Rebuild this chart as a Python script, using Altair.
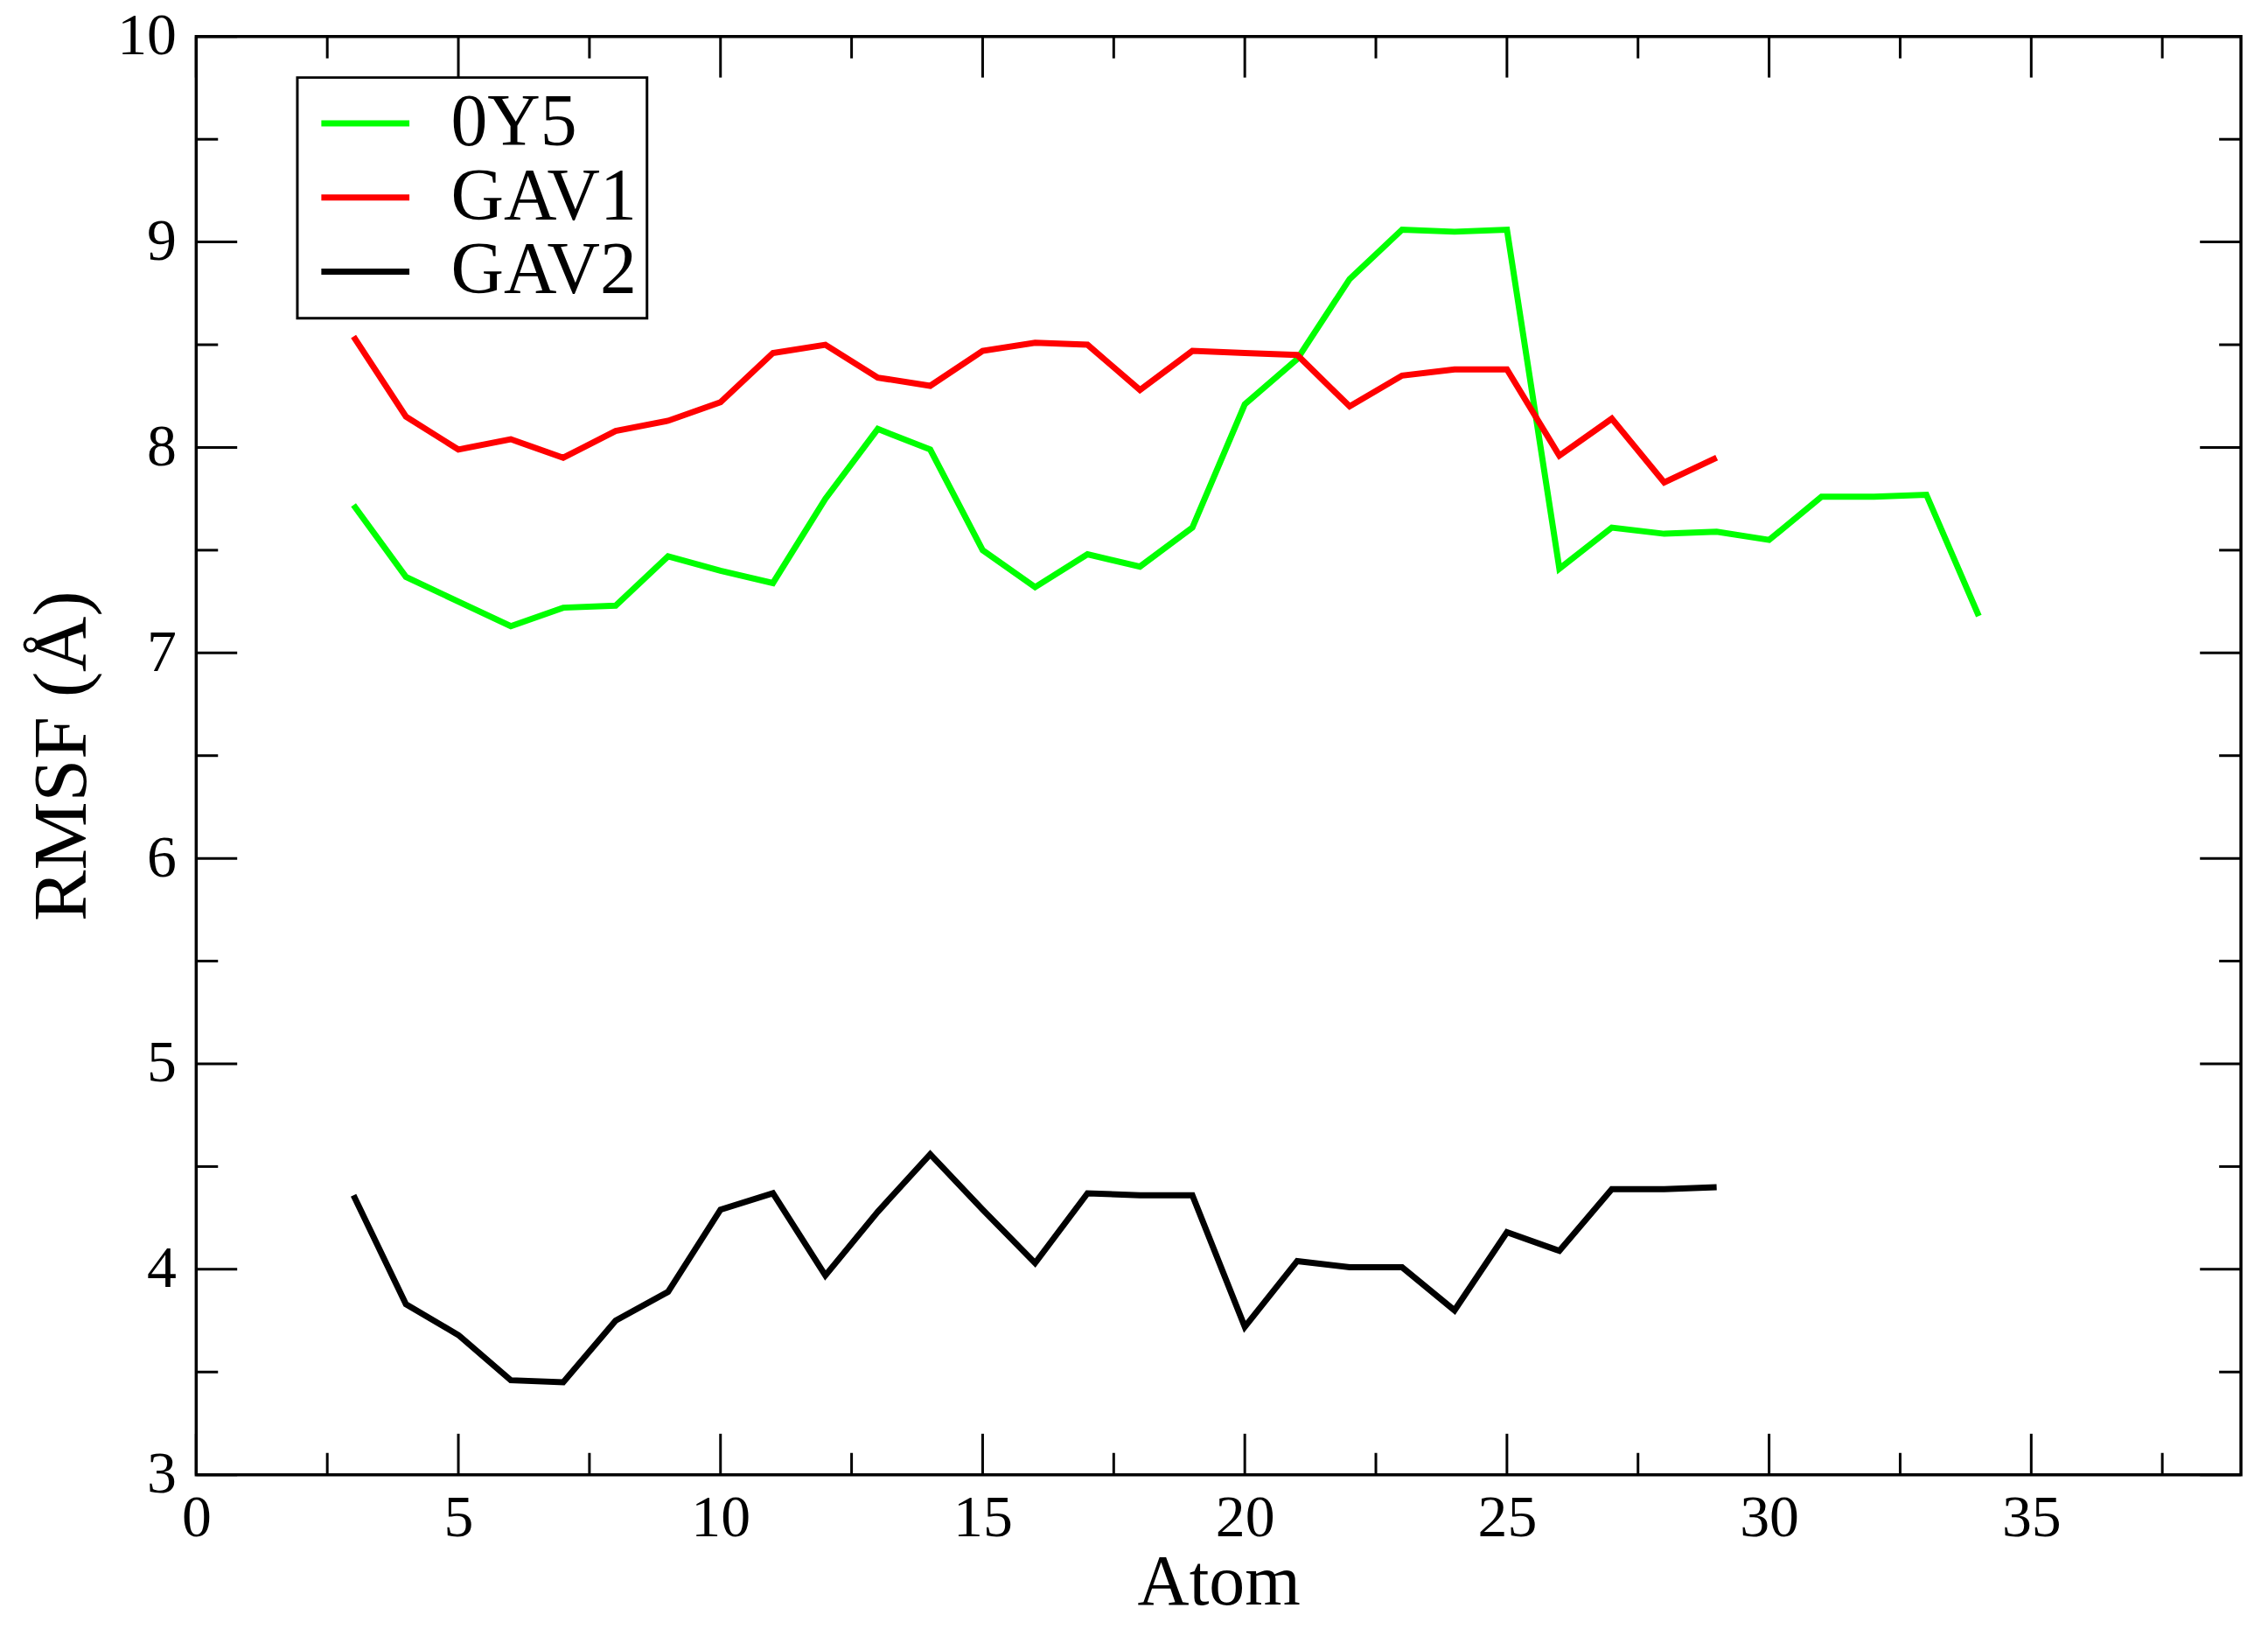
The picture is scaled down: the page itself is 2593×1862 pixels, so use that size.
import altair as alt
import pandas as pd

# ---- data ----
atoms_0y5 = list(range(3, 35))
rmsf_0y5 = [7.72, 7.37, 7.25, 7.13, 7.22, 7.23, 7.47, 7.40, 7.34, 7.75, 8.09, 7.99,
            7.50, 7.32, 7.48, 7.42, 7.61, 8.21, 8.43, 8.82, 9.06, 9.05, 9.06, 7.41,
            7.61, 7.58, 7.59, 7.55, 7.76, 7.76, 7.77, 7.18]

atoms_gav1 = list(range(3, 30))
rmsf_gav1 = [8.54, 8.15, 7.99, 8.04, 7.95, 8.08, 8.13, 8.22, 8.46, 8.50, 8.34, 8.30,
             8.47, 8.51, 8.50, 8.28, 8.47, 8.46, 8.45, 8.20, 8.35, 8.38, 8.38, 7.96,
             8.14, 7.83, 7.95]

atoms_gav2 = list(range(3, 30))
rmsf_gav2 = [4.36, 3.83, 3.68, 3.46, 3.45, 3.75, 3.89, 4.29, 4.37, 3.97, 4.28, 4.56,
             4.29, 4.03, 4.37, 4.36, 4.36, 3.72, 4.04, 4.01, 4.01, 3.80, 4.18, 4.09,
             4.39, 4.39, 4.40]

series_names = ["0Y5", "GAV1", "GAV2"]
series_colors = ["#00ff00", "#ff0000", "#000000"]

x_major = [0, 5, 10, 15, 20, 25, 30, 35]
x_minor = [2.5, 7.5, 12.5, 17.5, 22.5, 27.5, 32.5, 37.5]
y_major = [3, 4, 5, 6, 7, 8, 9, 10]
y_minor = [3.5, 4.5, 5.5, 6.5, 7.5, 8.5, 9.5]

# ---- build tables ----
rows = []
for name, atoms, vals in [("0Y5", atoms_0y5, rmsf_0y5),
                          ("GAV1", atoms_gav1, rmsf_gav1),
                          ("GAV2", atoms_gav2, rmsf_gav2)]:
    for a, v in zip(atoms, vals):
        rows.append({"atom": a, "rmsf": v, "series": name})
df = pd.DataFrame(rows)

W, H = 2345, 1649
FONT = "Liberation Serif"
MAJ, MIN = 47, 25

xs = alt.Scale(domain=[0, 39], nice=False, zero=False)
ys = alt.Scale(domain=[3, 10], nice=False, zero=False)

x_axis = alt.Axis(values=x_major, format="d", title="Atom", labelFontSize=68, labelFont=FONT,
                  titleFont=FONT, titleFontSize=82, titleFontWeight="normal",
                  ticks=False, tickSize=0, domain=False, grid=False,
                  labelPadding=16, labelFlush=False, labelColor="black",
                  titleColor="black", titleBaseline="alphabetic",
                  titleX=W / 2, titleY=148, titleAlign="center")
y_axis = alt.Axis(values=y_major, format="d", title="RMSF (Å)", labelFontSize=68, labelFont=FONT,
                  titleFont=FONT, titleFontSize=88, titleFontWeight="normal",
                  ticks=False, tickSize=0, domain=False, grid=False,
                  labelPadding=23, labelFlush=False, labelColor="black",
                  titleColor="black", titleBaseline="alphabetic",
                  titleX=-127, titleY=H / 2, titleAlign="center", titleAngle=270)

lines = alt.Chart(df).mark_line(strokeWidth=7).encode(
    x=alt.X("atom:Q", scale=xs, axis=x_axis),
    y=alt.Y("rmsf:Q", scale=ys, axis=y_axis),
    color=alt.Color("series:N", title=None,
                    scale=alt.Scale(domain=series_names, range=series_colors),
                    legend=alt.Legend(orient="none", legendX=116, legendY=47,
                                      symbolType="stroke", symbolSize=10201,
                                      symbolStrokeWidth=7, labelFont=FONT,
                                      labelFontSize=84, labelColor="black",
                                      labelOffset=44, symbolOffset=13, labelLimit=600,
                                      padding=11, rowPadding=0, clipHeight=83,
                                      strokeColor="black", fillColor="white")),
    order="atom:Q",
)

def xticks(vals, length):
    d = pd.DataFrame({"v": vals})
    bottom = alt.Chart(d).mark_rule(color="black", strokeWidth=3).encode(
        x=alt.X("v:Q", scale=xs), y=alt.value(H), y2=alt.value(H - length))
    top = alt.Chart(d).mark_rule(color="black", strokeWidth=3).encode(
        x=alt.X("v:Q", scale=xs), y=alt.value(0), y2=alt.value(length))
    return [bottom, top]

def yticks(vals, length):
    d = pd.DataFrame({"v": vals})
    left = alt.Chart(d).mark_rule(color="black", strokeWidth=3).encode(
        y=alt.Y("v:Q", scale=ys), x=alt.value(0), x2=alt.value(length))
    right = alt.Chart(d).mark_rule(color="black", strokeWidth=3).encode(
        y=alt.Y("v:Q", scale=ys), x=alt.value(W), x2=alt.value(W - length))
    return [left, right]

tick_layers = xticks(x_major, MAJ) + xticks(x_minor, MIN) + yticks(y_major, MAJ) + yticks(y_minor, MIN)

chart = alt.layer(*tick_layers, lines).properties(
    width=W, height=H,
    autosize=alt.AutoSizeParams(type="none"),
    padding={"left": 217, "top": 31, "right": 23, "bottom": 174},
).configure_view(
    stroke="black", strokeWidth=3.5, fill="white"
).configure_legend(
    strokeWidth=3
)

chart.save("out.html", embed_options={"renderer": "svg", "actions": False})
